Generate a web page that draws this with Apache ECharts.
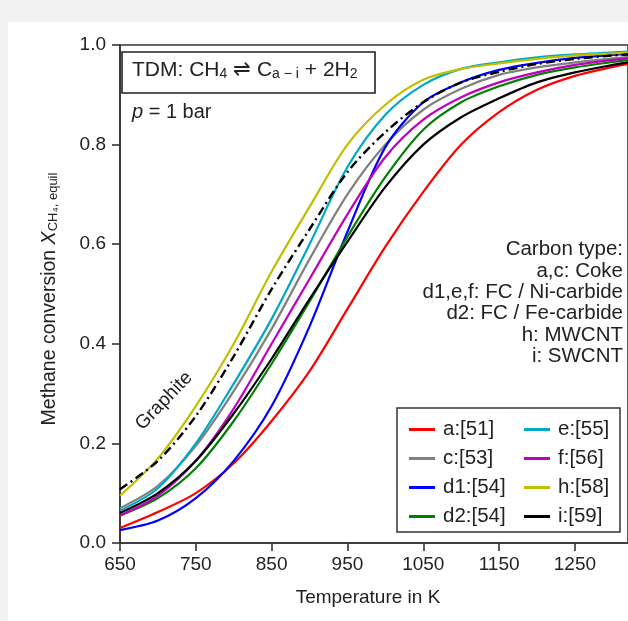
<!DOCTYPE html>
<html><head><meta charset="utf-8">
<script src="https://cdn.jsdelivr.net/npm/echarts@6/dist/echarts.min.js"></script>
<style>html,body{margin:0;padding:0;background:#fff}#c{width:628px;height:621px}</style>
</head><body><div id="c"></div>
<script>
const temperatures = [650,700,750,800,850,900,950,1000,1050,1100,1150,1200,1250,1300,1320];
const xTicks = [650,750,850,950,1050,1150,1250];
const yTicks = [0.0,0.2,0.4,0.6,0.8,1.0];
const a_51  = [0.030,0.062,0.100,0.160,0.245,0.345,0.470,0.595,0.705,0.800,0.865,0.910,0.938,0.956,0.962];
const c_53  = [0.070,0.115,0.195,0.305,0.430,0.570,0.700,0.800,0.870,0.912,0.940,0.955,0.965,0.973,0.976];
const d1_54 = [0.026,0.045,0.090,0.165,0.275,0.435,0.625,0.795,0.885,0.925,0.950,0.964,0.974,0.980,0.982];
const d2_54 = [0.055,0.090,0.150,0.245,0.360,0.485,0.615,0.735,0.830,0.885,0.917,0.940,0.955,0.966,0.970];
const e_55  = [0.065,0.110,0.200,0.320,0.450,0.600,0.755,0.860,0.920,0.952,0.965,0.975,0.981,0.985,0.987];
const f_56  = [0.055,0.095,0.165,0.270,0.400,0.530,0.660,0.775,0.850,0.895,0.925,0.945,0.960,0.970,0.973];
const h_58  = [0.095,0.170,0.275,0.400,0.545,0.675,0.800,0.880,0.930,0.952,0.963,0.972,0.979,0.983,0.985];
const i_59  = [0.060,0.100,0.165,0.260,0.370,0.490,0.605,0.715,0.800,0.855,0.893,0.925,0.945,0.960,0.965];
const graphite = [0.108,0.165,0.255,0.375,0.510,0.630,0.745,0.825,0.885,0.925,0.946,0.962,0.972,0.979,0.981];

const seriesNames = ['a:[51]','c:[53]','d1:[54]','d2:[54]','e:[55]','f:[56]','h:[58]','i:[59]'];
const seriesValues = [a_51,c_53,d1_54,d2_54,e_55,f_56,h_58,i_59];
const seriesColors = ['#ff0000','#808080','#0000ff','#008000','#00a8c8','#bf00bf','#bfbf00','#000000'];
const carbonLines = ['Carbon type:','a,c: Coke','d1,e,f: FC / Ni-carbide','d2: FC / Fe-carbide','h: MWCNT','i: SWCNT'];

const FONT = 'Liberation Sans';
const TXT = '#222';
const pair = arr => temperatures.map((t,k)=>[t,arr[k]]);

const series = seriesNames.map((n,k)=>({
  name:n, type:'line', data:pair(seriesValues[k]), symbol:'none', smooth:0.3,
  lineStyle:{color:seriesColors[k], width:2.2}, itemStyle:{color:seriesColors[k]}, z:2
}));
series.push({
  name:'Graphite', type:'line', data:pair(graphite), symbol:'none', smooth:0.3,
  lineStyle:{color:'#000', width:2.4, type:[9,4,2,4]}, z:3
});

const chart = echarts.init(document.getElementById('c'), null, {renderer:'canvas'});
const legendCommon = {
  orient:'vertical', icon:'rect', itemWidth:26, itemHeight:3, itemGap:8,
  textStyle:{fontFamily:FONT, fontSize:20.5, color:TXT, padding:[0,0,0,3]}
};
chart.setOption({
  animation:false,
  backgroundColor:'#fff',
  grid:{left:120, top:45, right:-2, bottom:78, show:true, borderColor:'#333', borderWidth:1.6},
  xAxis:{
    type:'value', min:650, max:1320, interval:100,
    axisLine:{lineStyle:{color:'#333', width:1.6}},
    axisTick:{show:true, length:8, lineStyle:{color:'#333', width:1.6}},
    axisLabel:{fontFamily:FONT, fontSize:19, color:TXT, margin:12, showMaxLabel:false,
      formatter:v=> xTicks.includes(v) ? String(v) : ''},
    splitLine:{show:false}
  },
  yAxis:{
    type:'value', min:0, max:1, interval:0.2,
    axisLine:{show:true, lineStyle:{color:'#333', width:1.6}},
    axisTick:{show:true, length:8, lineStyle:{color:'#333', width:1.6}},
    axisLabel:{fontFamily:FONT, fontSize:19, color:TXT, margin:14, formatter:v=>v.toFixed(1)},
    splitLine:{show:false}
  },
  legend:[
    Object.assign({left:404, top:414, data:seriesNames.slice(0,4)}, legendCommon),
    Object.assign({left:519, top:414, data:seriesNames.slice(4)}, legendCommon)
  ],
  graphic:[
    {type:'rect', shape:{x:0,y:0,width:628,height:22}, style:{fill:'#f2f2f2'}, silent:true, z:-10},
    {type:'rect', shape:{x:0,y:0,width:8,height:621}, style:{fill:'#f2f2f2'}, silent:true, z:-10},
    {type:'rect', shape:{x:397,y:408,width:223,height:124}, style:{fill:'#fff', stroke:'#333', lineWidth:1.5}, z:1},
    {type:'rect', shape:{x:122,y:52,width:253,height:41}, style:{fill:'#fff', stroke:'#222', lineWidth:1.6}, z:10},
    {type:'text', left:132, top:60, z:11, style:{
      text:'{n|TDM: CH}{s|4}{n| ⇌ C}{s|a − i}{n| + 2H}{s|2}',
      rich:{n:{fontFamily:FONT, fontSize:21, fill:TXT, lineHeight:23, verticalAlign:'bottom'},
            s:{fontFamily:FONT, fontSize:14, fill:TXT, lineHeight:17, verticalAlign:'bottom'}}
    }},
    {type:'text', left:132, top:102, z:11, style:{
      text:'{i|p} = 1 bar',
      rich:{i:{fontFamily:FONT, fontStyle:'italic', fontSize:20, fill:TXT}},
      fontFamily:FONT, fontSize:20, fill:TXT
    }},
    {type:'text', x:623, y:239, z:11, style:{
      text:carbonLines.join('\n'), fontFamily:FONT, fontSize:20.5, fill:TXT, lineHeight:21.3,
      align:'right', verticalAlign:'top'
    }},
    {type:'text', x:164, y:401, rotation:Math.PI*46/180, z:11, style:{
      text:'Graphite', fontFamily:FONT, fontSize:19, fill:TXT, align:'center', verticalAlign:'middle'
    }},
    {type:'text', x:368, y:598, z:11, style:{
      text:'Temperature in K', fontFamily:FONT, fontSize:19, fill:TXT, align:'center', verticalAlign:'middle'
    }},
    {type:'text', x:48, y:299, rotation:Math.PI/2, z:11, style:{
      text:'{n|Methane conversion }{i|X}{s|CH₄, equil}', align:'center', verticalAlign:'middle',
      rich:{n:{fontFamily:FONT, fontSize:19.5, fill:TXT, lineHeight:23, verticalAlign:'bottom'},
            i:{fontFamily:FONT, fontSize:19.5, fontStyle:'italic', fill:TXT, lineHeight:23, verticalAlign:'bottom'},
            s:{fontFamily:FONT, fontSize:13, fill:TXT, lineHeight:16, verticalAlign:'bottom'}}
    }}
  ],
  series:series
});
</script>
</body></html>
